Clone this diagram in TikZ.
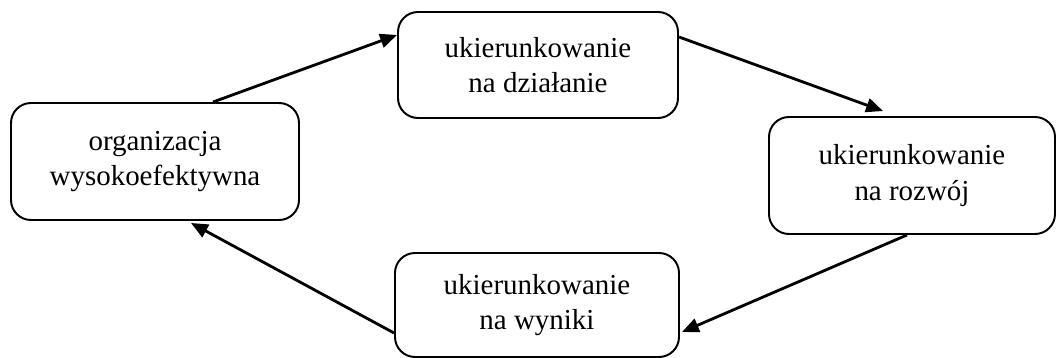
\documentclass[tikz,border=0pt]{standalone}
\usepackage{fontspec}
\setmainfont{Liberation Serif}
\usetikzlibrary{arrows.meta}
\tikzset{every picture/.style={line width=1.4pt}}

\begin{document}
\begin{tikzpicture}[>={Triangle[length=12pt,width=10pt]}, every node/.style={font=\fontsize{20.6}{25}\selectfont},
        box/.style={draw, rounded corners=0.5cm, align=center}]
        \useasboundingbox (0,0) rectangle (26.4,8.95);
        \node[box, minimum width=7.2cm, minimum height=2.925cm] (org) at (3.875,4.9125) {organizacja\\wysokoefektywna};
        \node[box, minimum width=7.0cm, minimum height=2.65cm] (dzial) at (13.45,7.325) {ukierunkowanie\\na działanie};
        \node[box, minimum width=7.15cm, minimum height=2.925cm] (rozwoj) at (22.8,4.5625) {ukierunkowanie\\na rozwój};
        \node[box, minimum width=7.1cm, minimum height=2.6cm] (wyniki) at (13.425,1.325) {ukierunkowanie\\na wyniki};
        \draw[->, line width=2pt] ([xshift=1.45cm]org.north) -- ([yshift=0.75cm]dzial.west);
        \draw[->, line width=2pt] ([yshift=0.7cm]dzial.east) -- ([xshift=-0.725cm,yshift=0.125cm]rozwoj.north);
        \draw[->, line width=2pt] ([xshift=-0.125cm]rozwoj.south) -- ([xshift=0.05cm,yshift=-0.675cm]wyniki.east);
        \draw[->, line width=2pt] ([yshift=-0.7cm]wyniki.west) -- ([xshift=0.9cm,yshift=-0.05cm]org.south);
    \end{tikzpicture}
\end{document}
